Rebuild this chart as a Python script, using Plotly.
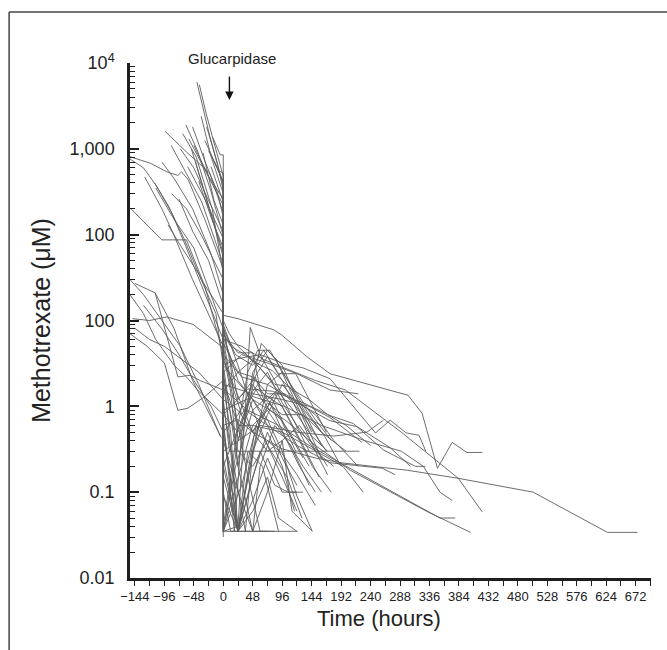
import plotly.graph_objects as go

# ---- data: each curve is a list of (hours, methotrexate uM) ----
# curves that start high shortly before glucarpidase and drop at t = 0
pre_high = [
    [(-43, 6000), (-22, 1400), (-8, 600), (0, 360), (0, 0.035)],
    [(-39, 5600), (-28, 2600), (-14, 1100), (0, 480), (0, 0.3)],
    [(-95, 1600), (-62, 950), (-22, 520), (0, 180), (0, 1.0)],
    [(-61, 1900), (-42, 950), (-20, 320), (0, 95), (0, 0.5)],
    [(-56, 1300), (-34, 650), (-12, 330), (0, 220), (0, 2.0)],
    [(-17, 1350), (-5, 850), (0, 850), (0, 0.03)],
    [(-50, 1800), (-30, 720), (-10, 320), (0, 160), (0, 0.1)],
    [(-70, 1000), (-48, 600), (-25, 260), (0, 110), (0, 4.2)],
    [(-48, 1100), (-24, 480), (0, 260), (0, 0.035)],
    [(-36, 2400), (-20, 820), (0, 300), (0, 0.6)],
    [(-30, 1250), (-12, 640), (0, 420), (0, 0.2)],
    [(-24, 950), (-8, 560), (0, 520), (0, 1.5)],
    [(-45, 700), (-24, 210), (0, 55), (0, 3.0)],
    [(-20, 620), (0, 240), (0, 0.15)],
    [(-40, 420), (-20, 160), (0, 70), (0, 0.9)],
    [(-66, 1500), (-44, 800), (-18, 200), (0, 35), (0, 0.04)],
    [(-27, 1800), (-10, 700), (0, 330), (0, 0.25)],
    [(-14, 700), (0, 400), (0, 6.0)],
    [(-58, 620), (-30, 260), (-8, 120), (0, 90), (0, 0.4)],
    [(-33, 900), (-15, 250), (0, 130), (0, 1.2)],
    [(-85, 1100), (-60, 520), (-35, 240), (0, 45), (0, 2.5)],
    [(-52, 1000), (-36, 420), (-16, 150), (0, 60), (0, 0.09)],
]

# curves that start at the left edge or well before glucarpidase
pre_long = [
    [(-152, 810), (-119, 680), (-92, 540), (-74, 490), (-68, 540), (-57, 435), (-30, 150), (0, 40), (0, 0.8)],
    [(-152, 760), (-130, 600), (-110, 380), (-84, 180), (-60, 70), (-30, 20), (0, 6), (0, 0.035)],
    [(-128, 470), (-100, 200), (-82, 105), (-50, 30), (0, 5), (0, 0.5)],
    [(-152, 205), (-100, 87), (-60, 87), (-30, 25), (0, 4), (0, 0.035)],
    [(-112, 400), (-90, 220), (-64, 90), (-36, 30), (0, 12), (0, 1.8)],
    [(-100, 700), (-80, 450), (-50, 200), (-20, 60), (0, 20), (0, 0.3)],
    [(-84, 300), (-60, 200), (-36, 100), (0, 30), (0, 3.5)],
    [(-110, 350), (-80, 150), (-48, 70), (-20, 20), (0, 8), (0, 0.1)],
    [(-72, 260), (-50, 110), (-24, 50), (0, 15), (0, 0.6)],
    [(-90, 130), (-70, 75), (-40, 35), (-12, 12), (0, 3), (0, 0.035)],
    [(-144, 27), (-111, 21), (-74, 2.2), (-54, 2.3), (-38, 2.0), (0, 1.55)],
    [(-152, 30), (-130, 20), (-100, 10), (-70, 5), (-40, 1.8), (-5, 0.45)],
    [(-144, 8.1), (-120, 6), (-96, 5), (-70, 3.6), (-40, 2.5), (0, 1.2)],
    [(-148, 10.5), (-120, 10), (-92, 11), (-49, 9), (0, 4.8)],
    [(-152, 20), (-130, 12), (-110, 6), (-80, 3), (-60, 2.2), (-40, 1.5), (0, 0.8)],
    [(-111, 21), (-80, 8), (-50, 2), (-3, 0.43)],
    [(-130, 15), (-100, 8), (-72, 4), (-48, 2), (-20, 1), (0, 0.5)],
    [(-152, 7), (-124, 5), (-96, 3.2), (-74, 0.9), (-58, 0.95), (-30, 1.3), (0, 2)],
]

# curves after glucarpidase (rebound and decline), up to about a week
post_short = [
    [(0, 4.2), (12, 1.5), (24, 0.2), (48, 2.5), (72, 4.5), (96, 3), (120, 1.2), (144, 0.5)],
    [(0, 0.035), (24, 0.04), (44, 8.3), (60, 4), (84, 2), (110, 0.8), (140, 0.3)],
    [(0, 9), (6, 5), (24, 2), (48, 1.2), (72, 0.6), (96, 0.25), (120, 0.12)],
    [(0, 8), (12, 3), (24, 0.4), (36, 0.9), (62, 5.4), (86, 3.5), (110, 1.5), (136, 0.6), (160, 0.25)],
    [(0, 0.5), (24, 0.035), (48, 0.3), (72, 1.8), (96, 2.5), (120, 1.4), (150, 0.7), (176, 0.4)],
    [(0, 2), (24, 0.6), (48, 0.6), (72, 0.9), (96, 0.5), (130, 0.2), (160, 0.1)],
    [(0, 0.035), (24, 0.035), (60, 0.035), (96, 0.035), (121, 0.035)],
    [(0, 8), (20, 4), (48, 3), (66, 4.5), (90, 2.4), (118, 2.4), (140, 1.2), (168, 0.5)],
    [(0, 1), (24, 0.1), (36, 0.035), (48, 0.3), (72, 0.8), (96, 1.8), (130, 0.9), (160, 0.35)],
    [(0, 3), (24, 0.2), (48, 0.035), (60, 0.2), (84, 0.6), (110, 0.35), (140, 0.12)],
    [(0, 0.2), (24, 0.035), (48, 0.035), (72, 0.1), (96, 0.4), (112, 0.06), (145, 0.035)],
    [(0, 6.5), (10, 4), (24, 1.2), (48, 2), (72, 3.8), (96, 2), (120, 0.9), (150, 0.3), (170, 0.16)],
    [(0, 6), (12, 2), (30, 0.8), (54, 1.6), (80, 1.2), (100, 0.6), (130, 0.25)],
    [(0, 0.8), (24, 0.5), (48, 1.5), (72, 2.5), (96, 1.1), (120, 0.6), (150, 0.3), (180, 0.2)],
    [(0, 0.1), (12, 0.035), (24, 0.035), (48, 0.15), (72, 0.5), (96, 0.2), (116, 0.06)],
    [(0, 7), (12, 5), (36, 4), (60, 2.8), (84, 1.8), (108, 1.7), (132, 0.9), (160, 0.5)],
    [(0, 0.035), (24, 0.4), (48, 1.2), (72, 0.7), (96, 0.3), (120, 0.09), (145, 0.035)],
    [(0, 2.8), (24, 0.035), (48, 0.08), (72, 0.25), (96, 0.1), (120, 0.1)],
    [(0, 1.5), (24, 2.5), (48, 3.5), (72, 2.2), (96, 1.3), (120, 0.8), (144, 0.45), (170, 0.3)],
    [(0, 0.6), (24, 0.035), (36, 0.1), (60, 0.7), (84, 1.4), (108, 0.7), (130, 0.35), (156, 0.15)],
    [(0, 9), (24, 3), (48, 0.9), (72, 0.35), (96, 0.15), (120, 0.06)],
    [(0, 0.25), (24, 0.035), (50, 0.45), (76, 1.1), (100, 0.45), (124, 0.2), (150, 0.1)],
    [(0, 5), (18, 1), (40, 0.15), (60, 0.035), (84, 0.035)],
    [(0, 0.04), (24, 0.6), (40, 2.5), (56, 4.5), (76, 4.5), (96, 2.6), (118, 1.4), (140, 0.8), (165, 0.45), (192, 0.2)],
    [(0, 10), (10, 7), (24, 5), (50, 3.3), (80, 2.6), (110, 1.6), (140, 1.2), (170, 0.8), (200, 0.6), (240, 0.35)],
    [(0, 0.15), (24, 0.035), (48, 0.06), (72, 0.15), (90, 0.05), (120, 0.035)],
    [(0, 3.5), (24, 1.3), (48, 0.5), (72, 1.1), (96, 0.8), (130, 0.8), (160, 0.5), (200, 0.3)],
    [(0, 0.5), (24, 0.8), (48, 1.8), (66, 1.1), (90, 1.6), (114, 1.1), (140, 0.6), (168, 0.3)],
    [(0, 1.8), (12, 0.5), (24, 0.035), (60, 0.3), (84, 0.12), (106, 0.1), (130, 0.1)],
    [(0, 0.035), (20, 0.2), (48, 0.9), (72, 1.3), (96, 1.0), (120, 0.45), (145, 0.2), (176, 0.1)],
    [(0, 7), (24, 4.2), (48, 4.2), (60, 1.6), (84, 0.9), (108, 0.5), (140, 0.2)],
    [(0, 2.2), (24, 0.3), (48, 0.2), (72, 0.4), (96, 0.28), (120, 0.16), (150, 0.07)],
    [(0, 0.09), (24, 0.035), (40, 0.3), (64, 0.2), (90, 0.035)],
    [(0, 5.5), (24, 2.5), (48, 2.2), (72, 1.4), (100, 1.4), (124, 1.1), (150, 0.8), (180, 0.4), (220, 0.2)],
    [(0, 0.4), (24, 0.1), (48, 0.035), (72, 0.035)],
    [(0, 1.2), (24, 0.9), (48, 0.5), (72, 0.3), (96, 0.4), (124, 0.6), (148, 0.35), (170, 0.2)],
    [(0, 0.7), (18, 0.035), (30, 0.5), (52, 2.2), (70, 1.0), (94, 0.7), (118, 0.3)],
    [(0, 0.035), (30, 0.12), (54, 0.6), (78, 0.3), (104, 0.15), (128, 0.05)],
]

# curves followed for a long time after glucarpidase
post_long = [
    [(0, 11.5), (24, 10.5), (82, 7.8), (95, 6.8), (136, 3.8), (174, 2.4), (283, 1.46), (301, 1.35),
     (324, 0.83), (349, 0.19), (373, 0.38), (397, 0.29), (422, 0.29)],
    [(0, 1.2), (10, 0.3), (100, 0.3), (222, 0.3)],
    [(0, 0.6), (24, 0.7), (48, 0.5), (96, 0.32), (150, 0.25), (192, 0.22), (300, 0.18), (383, 0.145),
     (505, 0.1), (626, 0.034), (675, 0.034)],
    [(0, 6), (30, 5), (66, 3.5), (110, 2.6), (150, 2.0), (199, 1.55), (290, 0.5), (383, 0.145), (422, 0.059)],
    [(0, 3), (24, 3.6), (60, 4), (96, 3.2), (130, 2.8), (174, 2.1), (248, 0.49), (272, 0.69), (298, 0.49),
     (319, 0.46), (330, 0.3)],
    [(0, 1.8), (48, 1.4), (96, 1.2), (140, 1.0), (174, 0.74), (226, 0.38)],
    [(0, 0.8), (40, 1.6), (80, 1.5), (130, 1.1), (174, 0.78), (212, 0.63), (261, 0.31), (313, 0.2), (329, 0.2)],
    [(0, 4), (30, 2.2), (72, 1.8), (120, 1.1), (174, 0.68), (218, 0.58), (272, 0.33), (305, 0.2)],
    [(0, 0.2), (36, 0.9), (72, 0.6), (120, 0.35), (174, 0.22), (231, 0.2), (259, 0.19), (280, 0.16)],
    [(0, 0.035), (48, 0.6), (96, 0.5), (150, 0.3), (195, 0.2), (228, 0.1)],
    [(0, 1.6), (40, 0.9), (90, 0.6), (140, 0.35), (190, 0.22), (329, 0.062), (353, 0.05), (378, 0.05)],
    [(0, 3), (48, 1.2), (100, 0.7), (150, 0.35), (207, 0.18), (333, 0.059), (403, 0.034)],
    [(0, 0.3), (60, 0.6), (120, 0.5), (180, 0.45), (234, 0.5), (261, 0.69)],
    [(0, 2.5), (30, 4), (72, 3.2), (120, 2.4), (174, 1.55), (220, 1.4)],
    [(0, 0.9), (48, 1.3), (100, 1.0), (160, 0.6), (230, 0.4), (290, 0.3), (326, 0.2), (353, 0.1), (373, 0.08)],
]

x_tickvals = [-144, -96, -48, 0, 48, 96, 144, 192, 240, 288, 336, 384, 432, 480, 528, 576, 624, 672]
x_minor = [-120, -72, -24, 24, 72, 120, 168, 216, 264, 312, 360, 408, 456, 504, 552, 600, 648, 696]
y_tickvals = [0.01, 0.1, 1, 10, 100, 1000, 10000]
y_ticktext = ["0.01", "0.1", "1", "100", "100", "1,000", "10<sup>4</sup>"]

LINE = "#5c5c5c"
AX = "#1e1e1e"
SANS = "Liberation Sans, Arial, Helvetica, sans-serif"

fig = go.Figure()
for group in (pre_high, pre_long, post_short, post_long):
    xs, ys = [], []
    for curve in group:
        xs += [p[0] for p in curve] + [None]
        ys += [p[1] for p in curve] + [None]
    fig.add_trace(go.Scatter(x=xs, y=ys, mode="lines", line=dict(color=LINE, width=0.9),
                             hoverinfo="skip", showlegend=False))

y_minor = [m * 10 ** e for e in range(-2, 4) for m in range(2, 10)]

fig.update_layout(
    width=667, height=650,
    margin=dict(l=130, r=16, t=63, b=72),
    paper_bgcolor="white", plot_bgcolor="white",
    showlegend=False,
    xaxis=dict(
        range=[-152, 697], showgrid=False, zeroline=False, automargin=False,
        showline=True, linecolor=AX, linewidth=2.5,
        tickmode="array", tickvals=x_tickvals, tickangle=0,
        ticks="outside", ticklen=5, tickwidth=1.3, tickcolor=AX,
        tickfont=dict(family=SANS, size=13, color="#222"),
        minor=dict(tickmode="array", tickvals=x_minor, ticks="outside", ticklen=5, tickwidth=1.3, tickcolor=AX),
    ),
    yaxis=dict(
        type="log", range=[-2, 4], showgrid=False, zeroline=False, automargin=False,
        showline=True, linecolor=AX, linewidth=2.5,
        tickmode="array", tickvals=y_tickvals, ticktext=y_ticktext,
        ticks="inside", ticklen=9, tickwidth=1.5, tickcolor=AX,
        tickfont=dict(family=SANS, size=18, color="#222"),
        ticklabelstandoff=9,
        minor=dict(tickmode="array", tickvals=y_minor, ticks="inside", ticklen=5, tickwidth=1.2, tickcolor=AX),
        title=dict(text="Methotrexate (\u03bcM)", font=dict(family=SANS, size=25, color="#222"), standoff=12),
    ),
    annotations=[
        dict(text="Time (hours)", x=0.478, y=-0.078, xref="paper", yref="paper", yanchor="middle",
             showarrow=False, font=dict(family=SANS, size=22, color="#222")),
        # annotation y on a log axis is given as log10(value)
        dict(text="Glucarpidase", x=14, y=4.0, xref="x", yref="y", yshift=5,
             showarrow=False, font=dict(family=SANS, size=15, color="#222")),
        dict(text="", x=10, y=3.57, xref="x", yref="y", ax=0, ay=-25,
             showarrow=True, arrowhead=2, arrowsize=1.2, arrowwidth=1.4, arrowcolor="#111"),
    ],
    shapes=[
        dict(type="line", xref="paper", yref="paper", x0=-0.232, x1=1.2, y0=1.099, y1=1.099,
             line=dict(color="#444", width=1.5)),
        dict(type="line", xref="paper", yref="paper", x0=-0.232, x1=-0.232, y0=-0.2, y1=1.099,
             line=dict(color="#444", width=1.5)),
    ],
)

# drop the browser's default 8px body margin so the figure sits at the page origin
fig.write_html("out.html", config={"displayModeBar": False},
               post_script="document.body.style.margin='0';")
